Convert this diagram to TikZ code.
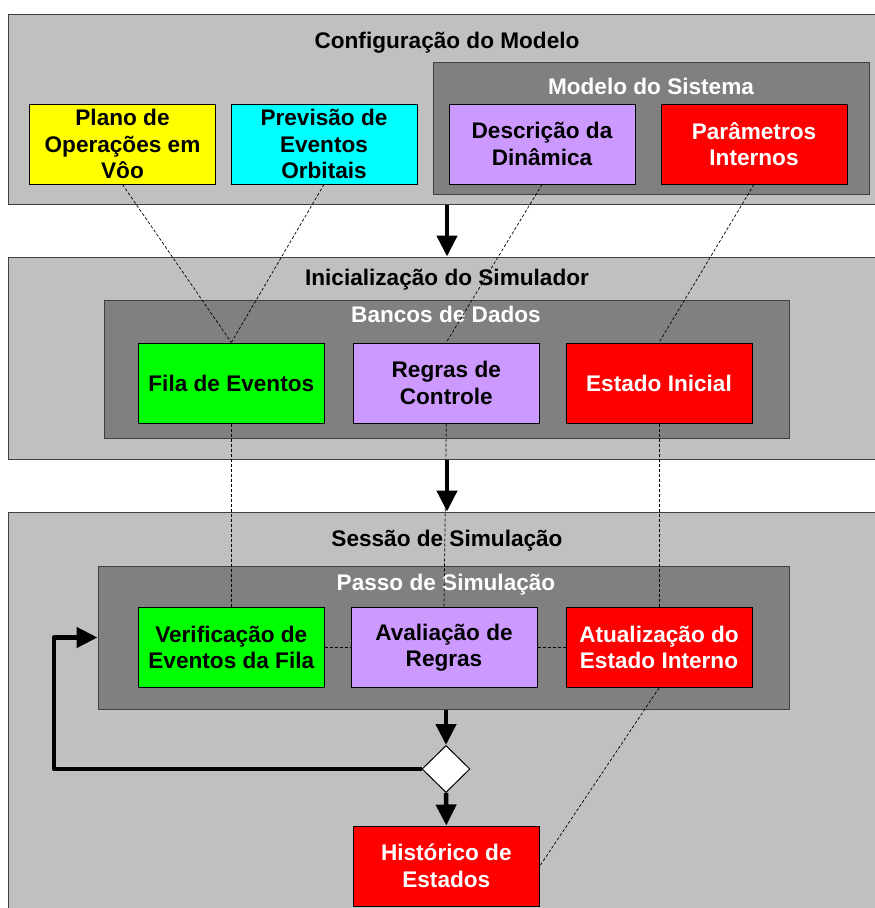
\documentclass[tikz,border=0pt]{standalone}
\usepackage{fontspec}
\setmainfont{Liberation Sans}
\usetikzlibrary{arrows.meta,shapes.geometric}
\definecolor{panelgray}{HTML}{C0C0C0}
\definecolor{groupgray}{HTML}{808080}
\definecolor{framegray}{HTML}{404040}
\definecolor{lilac}{HTML}{CC99FF}
\definecolor{pureyellow}{HTML}{FFFF00}
\definecolor{purecyan}{HTML}{00FFFF}
\definecolor{puregreen}{HTML}{00FF00}
\definecolor{purered}{HTML}{FF0000}
\begin{document}
\begin{tikzpicture}[x=1pt,y=-1pt,
  font=\fontsize{22.6}{26.5}\selectfont\bfseries,
  panel/.style={draw=framegray,line width=1pt,fill=panelgray,inner sep=0pt},
  group/.style={draw=framegray,line width=1pt,fill=groupgray,inner sep=0pt},
  item/.style={draw=black,line width=1pt,minimum width=186pt,minimum height=80pt,
               inner sep=0pt,align=center},
  title/.style={anchor=base,inner sep=0pt},
  gtitle/.style={anchor=base,inner sep=0pt,text=white},
  link/.style={draw=black,line width=0.7pt,dash pattern=on 3pt off 2pt},
  flow/.style={draw=black,line width=4.5pt,line join=round,
               -{Triangle[length=21pt,width=20pt]}},
  decision/.style={diamond,draw=black,line width=1pt,fill=white,inner sep=0pt,
                   minimum width=48pt,minimum height=47pt}]
\useasboundingbox (0,0) rectangle (875,908);
\clip (0,0) rectangle (875,908);
\fill[white] (0,0) rectangle (875,908);

% stage panels
\node[panel,minimum width=878pt,minimum height=190pt] (p1) at (447,109) {};
\node[panel,minimum width=878pt,minimum height=202pt] (p2) at (447,358) {};
\node[panel,minimum width=878pt,minimum height=418pt] (p3) at (447,721) {};

% grouping boxes
\node[group,minimum width=436pt,minimum height=132pt] (ms) at (651,128) {};
\node[group,minimum width=685pt,minimum height=138pt] (bd) at (446.5,369) {};
\node[group,minimum width=691pt,minimum height=143pt] (ps) at (443.5,637.5) {};

% titles
\node[title] (t1) at (447,48) {Configuração do Modelo};
\node[gtitle] (t1g) at (651,94) {Modelo do Sistema};
\node[title] (t2) at (447,285) {Inicialização do Simulador};
\node[gtitle] (t2g) at (446,322) {Bancos de Dados};
\node[title] (t3) at (447,546) {Sessão de Simulação};
\node[gtitle] (t3g) at (446,590) {Passo de Simulação};

% model configuration
\node[item,fill=pureyellow] (plano) at (122.5,144) {Plano de\\Operações em\\Vôo};
\node[item,fill=purecyan] (prev) at (324,144) {Previsão de\\Eventos\\Orbitais};
\node[item,fill=lilac] (desc) at (542,144) {Descrição da\\Dinâmica};
\node[item,fill=purered,text=white] (param) at (754,144) {Parâmetros\\Internos};

% data banks
\node[item,fill=puregreen] (fila) at (231.3,383) {Fila de Eventos};
\node[item,fill=lilac] (regras) at (446.3,383) {Regras de\\Controle};
\node[item,fill=purered,text=white] (estado) at (659,383) {Estado Inicial};

% simulation step
\node[item,fill=puregreen] (verif) at (231.3,647.5) {Verificação de\\Eventos da Fila};
\node[item,fill=lilac] (aval) at (444,647.5) {Avaliação de\\Regras};
\node[item,fill=purered,text=white] (atual) at (659,647.5) {Atualização do\\Estado Interno};

\node[decision] (dec) at (446,769) {};
\node[item,fill=purered,text=white] (hist) at (446.3,866) {Histórico de\\Estados};

% dependencies
\draw[link] (plano.south) -- (fila.north);
\draw[link] (prev.south) -- (fila.north);
\draw[link] (desc.south) -- (regras.north);
\draw[link] (param.south) -- (estado.north);
\draw[link] (fila.south) -- (verif.north);
\draw[link] (regras.south) -- (aval.north);
\draw[link] (estado.south) -- (atual.north);
\draw[link] (verif.east) -- (aval.west);
\draw[link] (aval.east) -- (atual.west);
\draw[link] (atual.south) -- (hist.east);

% control flow
\draw[flow] (p1.south) -- (p2.north);
\draw[flow] (p2.south) -- (p3.north);
\draw[flow] (ps.south -| dec) -- (dec.north);
\draw[flow] (dec.south) -- (hist.north);
\coordinate (loop) at (54,769);
\draw[flow] (dec.west) -- (loop) |- (ps.west);
\end{tikzpicture}
\end{document}
